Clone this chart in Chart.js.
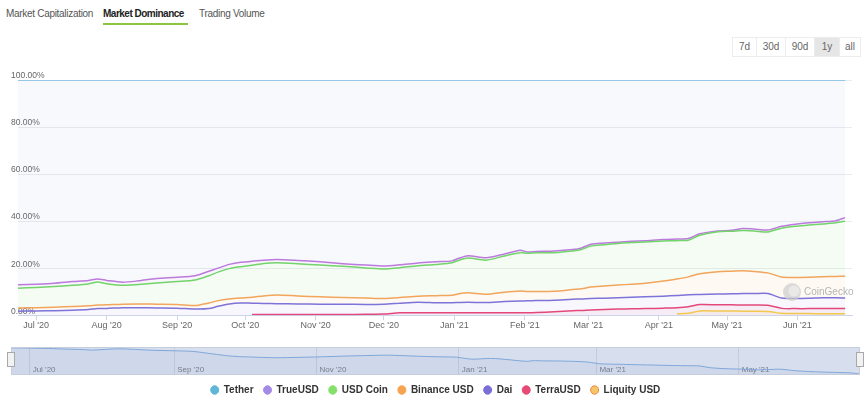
<!DOCTYPE html>
<html>
<head>
<meta charset="utf-8">
<title>Market Dominance</title>
<script src="https://cdn.jsdelivr.net/npm/chart.js@4.4.1/dist/chart.umd.min.js"></script>
<style>
  html, body { margin: 0; padding: 0; background: #fff; overflow: hidden; }
  body { width: 864px; height: 397px; position: relative; font-family: 'Liberation Sans', Arial, sans-serif; }
  .tab { position: absolute; top: 7px; font-size: 10px; line-height: 14px; color: #555; white-space: nowrap; letter-spacing: -0.3px; }
  .tab.active { color: #222; font-weight: bold; letter-spacing: -0.5px; }
  #underline { position: absolute; left: 103px; top: 23px; width: 85px; height: 2px; background: #8cc63f; }
  #ranges { position: absolute; left: 733px; top: 37px; display: flex; }
  #ranges div { height: 18px; line-height: 18px; border: 1px solid #ececec; margin-left: -1px; text-align: center; font-size: 10px; color: #666; }
  #ranges div.on { background: #e6e6e6; }
  #main { position: absolute; left: 0; top: 0; }
  #nav { position: absolute; left: 0; top: 341px; }
</style>
</head>
<body>
<div class="tab" style="left:6px">Market Capitalization</div>
<div class="tab active" style="left:103px">Market Dominance</div>
<div class="tab" style="left:199px">Trading Volume</div>
<div id="underline"></div>
<div id="ranges">
  <div style="width:23px">7d</div>
  <div style="width:28px">30d</div>
  <div style="width:28px">90d</div>
  <div class="on" style="width:24px">1y</div>
  <div style="width:20px">all</div>
</div>
<canvas id="main" width="864" height="340"></canvas>
<canvas id="nav" width="864" height="62"></canvas>
<script>
// days counted from 1 Jul 2020
const days = [-8, 0, 8, 16, 23, 27, 31, 38, 45, 53, 62, 70, 76, 80, 85, 90, 95, 100, 106, 115,
  125, 135, 145, 153, 160, 168, 176, 183, 186, 190, 198, 206, 213, 216, 220, 228, 236, 240, 244, 250,
  256, 262, 268, 276, 282, 287, 292, 300, 306, 311, 316, 322, 328, 334, 340, 346, 352, 356];

// market dominance, % of stablecoin market cap
const tether = [87.1, 86.8, 86.4, 85.7, 85.2, 84.6, 85.2, 86.0, 85.4, 84.4, 83.9, 83.2, 81.3, 80.0, 78.4, 77.5, 77.1, 76.6, 76.3, 76.7,
  77.3, 78.1, 78.7, 79.1, 78.6, 77.8, 77.3, 76.9, 75.8, 74.7, 75.6, 74.0, 72.4, 73.1, 72.9, 72.7, 72.1, 71.4, 69.8, 69.3,
  69.0, 68.6, 68.3, 67.8, 67.6, 67.4, 65.4, 64.2, 63.9, 63.1, 63.4, 63.8, 62.2, 61.3, 60.7, 60.3, 59.8, 58.5];
const trueUsd = [1.4, 1.4, 1.4, 1.6, 1.5, 1.3, 1.4, 1.3, 1.5, 1.9, 1.8, 1.8, 1.9, 1.7, 1.8, 1.9, 1.7, 1.4, 1.4, 1.4,
  1.4, 1.1, 1.2, 1.3, 1.2, 1.2, 1.1, 0.8, 0.8, 1.0, 1.0, 0.8, 1.0, 0.6, 0.6, 0.7, 0.6, 0.7, 0.8, 0.7,
  0.5, 0.5, 0.6, 0.7, 0.7, 0.7, 0.6, 0.3, 0.4, 0.9, 0.8, 0.8, 0.8, 0.9, 1.0, 0.9, 0.9, 1.5];
const usdCoin = [8.4, 8.6, 8.8, 9.0, 9.3, 9.8, 9.0, 8.0, 8.3, 9.0, 9.7, 10.9, 11.6, 12.1, 12.9, 13.3, 13.6, 13.8, 13.7, 13.7,
  13.5, 13.3, 12.8, 12.5, 12.7, 12.9, 13.3, 13.8, 14.3, 14.8, 14.5, 15.4, 16.3, 16.2, 16.4, 16.4, 16.4, 16.7, 17.4, 17.6,
  17.7, 17.7, 17.5, 17.0, 16.3, 15.6, 16.4, 17.0, 17.0, 17.1, 17.2, 17.4, 20.8, 21.8, 22.2, 22.5, 22.8, 23.4];
const binanceUsd = [1.4, 1.4, 1.5, 1.6, 1.6, 1.5, 1.5, 1.5, 1.6, 1.6, 1.6, 1.5, 2.4, 2.4, 2.1, 2.1, 2.5, 3.2, 3.7, 3.4,
  3.1, 2.8, 2.7, 2.4, 2.4, 2.6, 3.0, 3.2, 3.7, 4.0, 3.5, 4.0, 4.3, 4.0, 3.9, 3.8, 4.1, 4.3, 4.9, 5.2,
  5.4, 5.6, 5.8, 6.4, 7.0, 7.6, 8.8, 9.5, 9.6, 9.7, 9.4, 8.8, 8.9, 8.9, 8.9, 8.9, 9.1, 9.3];
const dai = [1.7, 1.8, 1.9, 2.1, 2.4, 2.8, 2.9, 3.2, 3.2, 3.1, 3.0, 2.6, 2.8, 3.8, 4.8, 5.2, 4.8, 4.7, 4.6, 4.5,
  4.4, 4.4, 4.2, 4.2, 4.1, 4.5, 4.3, 4.3, 4.4, 4.5, 4.4, 4.8, 5.0, 5.1, 5.1, 4.9, 4.9, 4.9, 4.9, 4.8,
  4.8, 4.9, 5.0, 5.1, 5.2, 5.1, 4.3, 4.6, 4.7, 4.9, 4.9, 5.0, 4.4, 4.3, 4.4, 4.6, 4.6, 4.5];
const terraUsd = [null, null, null, null, null, null, null, null, null, null, null, null, null, null, null, null, 0.3, 0.3, 0.3, 0.3,
  0.3, 0.3, 0.4, 0.5, 1.0, 1.0, 1.0, 1.0, 1.0, 1.0, 1.0, 1.0, 1.0, 1.0, 1.1, 1.5, 1.9, 2.0, 2.2, 2.4,
  2.6, 2.7, 2.8, 3.0, 2.6, 2.8, 2.7, 2.6, 2.6, 2.6, 2.6, 2.6, 2.1, 2.1, 2.1, 2.2, 2.2, 2.2];
const liquityUsd = [null, null, null, null, null, null, null, null, null, null, null, null, null, null, null, null, null, null, null, null,
  null, null, null, null, null, null, null, null, null, null, null, null, null, null, null, null, null, null, null, null,
  null, null, null, null, 0.6, 0.8, 1.8, 1.8, 1.8, 1.7, 1.7, 1.6, 0.8, 0.7, 0.7, 0.6, 0.6, 0.6];

const seriesNames = ['Tether', 'TrueUSD', 'USD Coin', 'Binance USD', 'Dai', 'TerraUSD', 'Liquity USD'];
const seriesValues = [tether, trueUsd, usdCoin, binanceUsd, dai, terraUsd, liquityUsd];

const monthTickDays = [0, 31, 62, 92, 123, 153, 184, 215, 243, 274, 304, 335];
const monthTickLabels = ["Jul '20", "Aug '20", "Sep '20", "Oct '20", "Nov '20", "Dec '20",
  "Jan '21", "Feb '21", "Mar '21", "Apr '21", "May '21", "Jun '21"];
const navTickDays = [0, 62, 123, 184, 243, 304];
const navTickLabels = ["Jul '20", "Sep '20", "Nov '20", "Jan '21", "Mar '21", "May '21"];

const lineColors = ['#7dbde4', '#bb7bdc', '#72d46a', '#f2a55c', '#7d73d8', '#e4487b', '#f3c84f'];
const fillColors = ['rgba(140,160,200,0.06)', 'rgba(183,125,223,0.08)', 'rgba(114,212,106,0.07)',
  'rgba(242,165,92,0.07)', 'rgba(125,115,216,0.06)', 'rgba(228,72,123,0.06)', 'rgba(243,200,79,0.08)'];
const legendFill = ['#5fb6d6', '#a58be7', '#84e06a', '#f7a24f', '#7a6fd6', '#e84a77', '#f7c46a'];
const legendStroke = ['#5fb6d6', '#a58be7', '#84e06a', '#f7a24f', '#7a6fd6', '#e84a77', '#e98a47'];

const points = arr => days.map((d, i) => ({ x: d, y: arr[i] }));

// stack from the bottom up: Liquity first, Tether last
const datasets = [];
for (let i = seriesNames.length - 1; i >= 0; i--) {
  const bottom = i >= 4;
  datasets.push({
    label: seriesNames[i],
    data: points(seriesValues[i]),
    borderColor: lineColors[i],
    backgroundColor: fillColors[i],
    borderWidth: 1.5,
    fill: bottom ? 'origin' : '-1',
    pointRadius: 0,
    tension: 0.25
  });
}

const watermark = {
  id: 'watermark',
  afterDatasetsDraw(chart) {
    const ctx = chart.ctx;
    ctx.save();
    ctx.fillStyle = 'rgba(205,205,205,0.7)';
    ctx.beginPath();
    ctx.arc(792, 292, 9, 0, Math.PI * 2);
    ctx.fill();
    ctx.fillStyle = 'rgba(235,235,235,0.9)';
    ctx.beginPath();
    ctx.arc(794, 291, 5.5, 0, Math.PI * 2);
    ctx.fill();
    ctx.fillStyle = '#b5b5b5';
    ctx.font = '10px "Liberation Sans", Arial, sans-serif';
    ctx.textBaseline = 'middle';
    ctx.fillText('CoinGecko', 804, 292);
    ctx.restore();
  }
};

new Chart(document.getElementById('main'), {
  type: 'line',
  data: { datasets: datasets },
  options: {
    responsive: false,
    animation: false,
    layout: { padding: { top: 80, left: 18, right: 12, bottom: 9 } },
    plugins: { legend: { display: false }, tooltip: { enabled: false } },
    scales: {
      x: {
        type: 'linear',
        min: -8,
        max: 359,
        afterBuildTicks: scale => { scale.ticks = monthTickDays.map(v => ({ value: v })); },
        grid: { drawOnChartArea: false, tickLength: 5, color: '#ccd6eb' },
        border: { color: '#ccd6eb' },
        ticks: {
          autoSkip: false, maxRotation: 0, padding: 0, color: '#666',
          font: { size: 9, family: "'Liberation Sans', Arial, sans-serif" },
          callback: v => { const i = monthTickDays.indexOf(v); return i >= 0 ? monthTickLabels[i] : ''; }
        }
      },
      y: {
        stacked: true,
        min: 0,
        max: 100,
        afterFit: scale => { scale.width = 0; },
        grid: { color: '#e9ecf0', drawTicks: false },
        border: { display: false },
        ticks: {
          stepSize: 20, mirror: true, padding: -7, labelOffset: -4, color: '#666',
          font: { size: 8.5, family: "'Liberation Sans', Arial, sans-serif" },
          callback: v => v.toFixed(2) + '%'
        }
      }
    }
  },
  plugins: [watermark]
});

// navigator strip with the legend under it
const navBackground = {
  id: 'navBackground',
  beforeDraw(chart) {
    const { ctx, chartArea: a } = chart;
    ctx.save();
    ctx.fillStyle = '#d7dfee';
    ctx.fillRect(a.left, a.top, a.right - a.left, a.bottom - a.top);
    ctx.restore();
  },
  afterDraw(chart) {
    const { ctx, chartArea: a } = chart;
    ctx.save();
    ctx.strokeStyle = '#c6cedc';
    ctx.lineWidth = 1;
    ctx.strokeRect(a.left + 0.5, a.top + 0.5, a.right - a.left - 1, a.bottom - a.top - 1);
    [a.left, a.right].forEach(x => {
      ctx.fillStyle = '#f2f2f2';
      ctx.strokeStyle = '#a8a8a8';
      ctx.fillRect(x - 3.5, a.top + 5.5, 7, 14);
      ctx.strokeRect(x - 3.5, a.top + 5.5, 7, 14);
    });
    ctx.restore();
  }
};

new Chart(document.getElementById('nav'), {
  type: 'line',
  data: {
    datasets: [{
      label: 'Tether',
      data: points(tether),
      borderColor: '#7fa7da',
      borderWidth: 1,
      backgroundColor: 'rgba(51,92,173,0.05)',
      fill: 'origin',
      pointRadius: 0,
      tension: 0.25
    }]
  },
  options: {
    responsive: false,
    animation: false,
    layout: { padding: { top: 6, left: 11, right: 4, bottom: 0 } },
    plugins: {
      tooltip: { enabled: false },
      legend: {
        position: 'bottom',
        onClick: null,
        labels: {
          usePointStyle: true,
          pointStyleWidth: 8,
          boxHeight: 6,
          padding: 10,
          color: '#333',
          font: { size: 10, weight: 'bold', family: "'Liberation Sans', Arial, sans-serif" },
          generateLabels: () => seriesNames.map((n, i) => ({
            text: n, fillStyle: legendFill[i], strokeStyle: legendStroke[i], lineWidth: 1,
            pointStyle: 'circle', hidden: false, datasetIndex: 0, fontColor: '#333'
          }))
        }
      }
    },
    scales: {
      x: {
        type: 'linear',
        min: -8,
        max: 356,
        afterBuildTicks: scale => { scale.ticks = navTickDays.map(v => ({ value: v })); },
        grid: { color: '#c3cbdc', drawTicks: false },
        border: { display: false },
        ticks: {
          mirror: true, padding: 0, align: 'start', labelOffset: 3, autoSkip: false, maxRotation: 0,
          color: '#7a7f88', font: { size: 8, family: "'Liberation Sans', Arial, sans-serif" },
          callback: v => { const i = navTickDays.indexOf(v); return i >= 0 ? navTickLabels[i] : ''; }
        }
      },
      y: { display: false, min: 57.5, max: 88 }
    }
  },
  plugins: [navBackground]
});
</script>
</body>
</html>
